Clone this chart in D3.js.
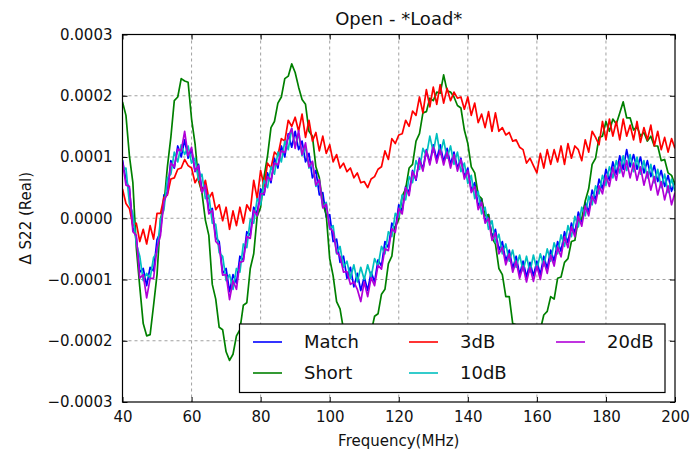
<!DOCTYPE html>
<html>
<head>
<meta charset="utf-8">
<script src="https://cdn.jsdelivr.net/npm/d3@7"></script>
<style>
  html, body { margin: 0; padding: 0; background: #fff; }
  svg { display: block; font-family: "DejaVu Sans", sans-serif; }
</style>
</head>
<body>
<svg id="chart" width="691" height="456"></svg>
<script>
// Frequency axis: 40 .. 200 MHz in 1 MHz steps
const freqStart = 40;
const freqStep = 1;

// ΔS22 (real part), in units of 1e-6
const match = [
  95, 62, 48, -15, -32, -88, -82, -110, -80, -86, -35, -22, 38, 42, 94, 82, 118, 100, 128, 98,
  112, 76, 88, 46, 56, 12, 16, -32, -38, -90, -82, -120, -92, -106, -62, -68, -22, -28, 18, 8,
  48, 38, 74, 58, 98, 82, 118, 100, 138, 116, 142, 112, 126, 92, 106, 66, 78, 38, 42, 2,
  6, -38, -34, -72, -62, -98, -80, -112, -90, -118, -96, -118, -88, -104, -68, -78, -38, -48, -8, -18,
  22, 12, 52, 42, 78, 62, 98, 80, 112, 90, 120, 96, 120, 92, 114, 88, 108, 82, 98, 68,
  82, 46, 58, 20, 32, -4, 6, -30, -18, -52, -38, -70, -52, -82, -62, -92, -70, -96, -72, -94,
  -70, -92, -62, -82, -52, -70, -38, -54, -22, -40, -8, -24, 10, -6, 26, 10, 46, 30, 64, 48,
  80, 62, 92, 72, 102, 80, 112, 84, 104, 80, 100, 74, 94, 68, 86, 60, 78, 52, 70, 44,
  60
];
const short = [
  190, 168, 102, 58, -48, -112, -172, -192, -190, -142, -92, -2, 22, 84, 132, 192, 198, 228, 224, 222,
  162, 122, 62, 42, -3, -28, -108, -132, -178, -182, -218, -232, -222, -192, -182, -142, -138, -82, -58, 3,
  18, 68, 102, 148, 158, 188, 198, 228, 232, 252, 238, 214, 194, 186, 142, 134, 84, 66, 24, 6,
  -66, -94, -136, -148, -182, -184, -206, -204, -220, -206, -210, -190, -186, -160, -156, -124, -116, -74, -62, -14,
  -2, 36, 48, 82, 88, 126, 138, 172, 174, 196, 192, 206, 204, 234, 208, 206, 198, 184, 180, 144,
  122, 84, 74, 38, 32, 4, 6, -32, -42, -82, -92, -128, -128, -172, -174, -196, -192, -206, -188, -196,
  -178, -182, -158, -152, -128, -132, -98, -96, -72, -66, -38, -36, -2, -1, 28, 48, 88, 98, 132, 134,
  158, 142, 162, 154, 172, 190, 164, 164, 144, 150, 134, 140, 126, 134, 118, 118, 94, 96, 74, 70,
  55
];
const db3 = [
  48, 24, 16, -12, -8, -38, -18, -42, -12, -34, 8, 8, 34, 38, 64, 66, 80, 82, 96, 86,
  82, 58, 68, 42, 62, 32, 42, 14, 22, -4, 18, -18, 12, -12, 18, -8, 22, 12, 62, 32,
  78, 52, 90, 82, 108, 102, 130, 126, 160, 150, 165, 142, 170, 132, 160, 126, 140, 110, 134, 106,
  120, 92, 104, 82, 90, 76, 82, 66, 74, 58, 60, 50, 64, 68, 80, 84, 110, 96, 130, 122,
  136, 138, 160, 150, 175, 168, 198, 172, 210, 182, 214, 186, 218, 188, 212, 192, 206, 196, 198, 178,
  198, 168, 188, 156, 170, 148, 174, 142, 172, 142, 148, 136, 140, 126, 128, 116, 112, 90, 98, 86,
  74, 106, 82, 112, 88, 112, 92, 118, 88, 122, 98, 118, 112, 94, 128, 108, 142, 132, 120, 158,
  128, 162, 134, 158, 128, 162, 134, 152, 128, 158, 124, 148, 128, 152, 118, 142, 112, 132, 108, 130,
  114
];
const db10 = [
  80, 82, 24, 8, -42, -62, -102, -90, -98, -64, -56, -2, 14, 66, 72, 108, 92, 120, 104, 118,
  90, 98, 62, 72, 32, 38, -8, -10, -56, -62, -102, -92, -116, -82, -88, -42, -48, -2, -8, 32,
  22, 62, 50, 84, 72, 108, 92, 126, 112, 146, 118, 138, 102, 116, 82, 92, 52, 60, 18, 26,
  -18, -12, -58, -46, -80, -70, -98, -76, -104, -80, -100, -76, -96, -66, -78, -46, -58, -22, -30, 8,
  2, 38, 30, 68, 58, 94, 80, 114, 102, 134, 108, 138, 104, 128, 98, 118, 88, 108, 76, 90,
  57, 70, 32, 44, 7, 18, -18, -4, -40, -26, -58, -42, -70, -52, -80, -60, -86, -62, -88, -60,
  -84, -58, -78, -50, -70, -40, -58, -27, -46, -12, -30, 3, -14, 18, 4, 36, 22, 53, 40, 70,
  54, 84, 66, 94, 74, 102, 78, 104, 76, 100, 72, 94, 66, 88, 58, 80, 50, 72, 42, 64,
  44
];
const db20 = [
  92, 54, 52, -22, -28, -98, -92, -130, -98, -98, -48, -28, 28, 40, 90, 84, 113, 110, 142, 102,
  116, 77, 86, 42, 54, 7, 13, -38, -44, -93, -92, -133, -102, -116, -72, -70, -30, -33, 13, 4,
  40, 40, 68, 62, 90, 87, 110, 107, 133, 147, 114, 143, 104, 123, 84, 93, 54, 63, 17, 23,
  -16, -22, -56, -62, -88, -87, -108, -104, -116, -136, -104, -128, -97, -110, -77, -83, -50, -53, -17, -23,
  16, 7, 50, 37, 76, 64, 96, 77, 110, 87, 116, 90, 112, 87, 108, 82, 104, 77, 96, 64,
  78, 42, 52, 14, 26, -8, 0, -36, -24, -58, -47, -76, -58, -88, -70, -98, -78, -104, -80, -103,
  -78, -100, -70, -90, -60, -78, -47, -63, -30, -48, -14, -30, 3, -13, 20, 4, 36, 24, 53, 40,
  70, 52, 83, 62, 92, 68, 94, 66, 90, 62, 84, 54, 76, 46, 68, 38, 60, 30, 53, 22,
  42
];

const seriesNames = ["Match", "Short", "3dB", "10dB", "20dB"];
const seriesColors = ["#0000ff", "#008000", "#ff0000", "#00bfbf", "#b000d8"];
const seriesValues = [match, short, db3, db10, db20];

const xTicks = [40, 60, 80, 100, 120, 140, 160, 180, 200];
const yTicks = [-0.0003, -0.0002, -0.0001, 0, 0.0001, 0.0002, 0.0003];

const svg = d3.select("#chart");
const plot = { left: 122.5, right: 675, top: 34.5, bottom: 402 };

const x = d3.scaleLinear().domain([40, 200]).range([plot.left, plot.right]);
const y = d3.scaleLinear().domain([-0.0003, 0.0003]).range([plot.bottom, plot.top]);

// Dashed grid
const grid = svg.append("g");
grid.selectAll("line.gx").data(xTicks.slice(1, -1)).enter().append("line")
  .attr("x1", d => x(d)).attr("x2", d => x(d))
  .attr("y1", plot.top).attr("y2", plot.bottom)
  .attr("stroke", "#a0a0a0").attr("stroke-width", 1).attr("stroke-dasharray", "3,3");
grid.selectAll("line.gy").data(yTicks.slice(1, -1)).enter().append("line")
  .attr("y1", d => y(d)).attr("y2", d => y(d))
  .attr("x1", plot.left).attr("x2", plot.right)
  .attr("stroke", "#a0a0a0").attr("stroke-width", 1).attr("stroke-dasharray", "3,3");

// Clip the traces to the axes box
svg.append("clipPath").attr("id", "plotclip").append("rect")
  .attr("x", plot.left).attr("y", plot.top)
  .attr("width", plot.right - plot.left).attr("height", plot.bottom - plot.top);

const line = d3.line()
  .x((d, i) => x(freqStart + i * freqStep))
  .y(d => y(d * 1e-6));

const traces = svg.append("g").attr("clip-path", "url(#plotclip)");
seriesValues.forEach((vals, k) => {
  traces.append("path")
    .datum(vals)
    .attr("fill", "none")
    .attr("stroke", seriesColors[k])
    .attr("stroke-width", 1.7)
    .attr("stroke-linejoin", "round")
    .attr("d", line);
});

// Axes with inward ticks on all four sides
const fmtY = v => (v < 0 ? "\u2212" : "") + Math.abs(v).toFixed(4);
const tickLen = 5;
const axB = svg.append("g").attr("transform", `translate(0,${plot.bottom})`)
  .call(d3.axisBottom(x).tickValues(xTicks).tickSizeInner(-tickLen).tickSizeOuter(0).tickPadding(9));
const axT = svg.append("g").attr("transform", `translate(0,${plot.top})`)
  .call(d3.axisTop(x).tickValues(xTicks).tickSizeInner(-tickLen).tickSizeOuter(0).tickFormat(""));
const axL = svg.append("g").attr("transform", `translate(${plot.left},0)`)
  .call(d3.axisLeft(y).tickValues(yTicks).tickSizeInner(-tickLen).tickSizeOuter(0).tickPadding(10).tickFormat(fmtY));
const axR = svg.append("g").attr("transform", `translate(${plot.right},0)`)
  .call(d3.axisRight(y).tickValues(yTicks).tickSizeInner(-tickLen).tickSizeOuter(0).tickFormat(""));
[axB, axT, axL, axR].forEach(a => {
  a.select(".domain").remove();
  a.selectAll(".tick line").attr("stroke", "#000");
  a.selectAll("text").attr("font-family", "DejaVu Sans").attr("font-size", 15).attr("fill", "#111");
});

svg.append("rect")
  .attr("x", plot.left).attr("y", plot.top)
  .attr("width", plot.right - plot.left).attr("height", plot.bottom - plot.top)
  .attr("fill", "none").attr("stroke", "#000").attr("stroke-width", 1.2);

// Titles
svg.append("text").attr("x", (plot.left + plot.right) / 2).attr("y", 25)
  .attr("text-anchor", "middle").attr("font-size", 18).attr("fill", "#111")
  .text("Open - *Load*");
svg.append("text").attr("x", (plot.left + plot.right) / 2).attr("y", 446)
  .attr("text-anchor", "middle").attr("font-size", 15).attr("fill", "#111")
  .text("Frequency(MHz)");
svg.append("text")
  .attr("transform", `translate(31,${(plot.top + plot.bottom) / 2}) rotate(-90)`)
  .attr("text-anchor", "middle").attr("font-size", 15).attr("fill", "#111")
  .text("\u0394 S22 (Real)");

// Legend, three columns filled top-to-bottom
const legend = svg.append("g");
legend.append("rect").attr("x", 239.5).attr("y", 324).attr("width", 425.5).attr("height", 68.5)
  .attr("fill", "#fff").attr("stroke", "#000").attr("stroke-width", 1.2);
const colX = [253, 409, 556];
const rowY = [342, 373];
seriesNames.forEach((name, k) => {
  const cx = colX[Math.floor(k / 2)];
  const cy = rowY[k % 2];
  legend.append("line").attr("x1", cx).attr("x2", cx + 29).attr("y1", cy).attr("y2", cy)
    .attr("stroke", seriesColors[k]).attr("stroke-width", 1.6);
  legend.append("text").attr("x", cx + 51).attr("y", cy).attr("dy", "0.36em")
    .attr("font-size", 18).attr("fill", "#111").text(name);
});
</script>
</body>
</html>
